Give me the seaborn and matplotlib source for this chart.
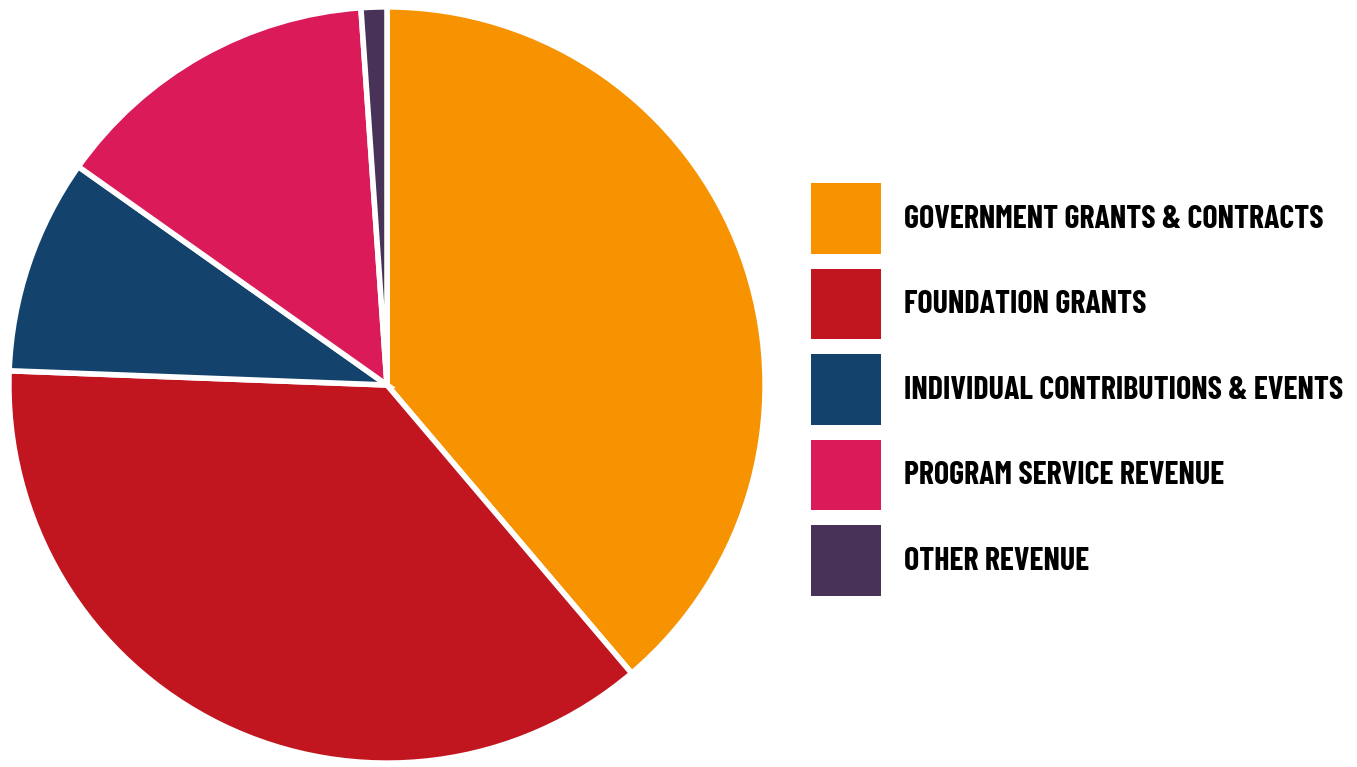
import matplotlib
matplotlib.use('Agg')
import matplotlib.pyplot as plt
import seaborn as sns
from matplotlib.patches import Patch
from matplotlib import font_manager

categories = ['GOVERNMENT GRANTS & CONTRACTS', 'FOUNDATION GRANTS',
              'INDIVIDUAL CONTRIBUTIONS & EVENTS', 'PROGRAM SERVICE REVENUE',
              'OTHER REVENUE']
shares = [38.8, 36.8, 9.2, 14.1, 1.1]
hex_colors = ['#F79200', '#C1161F', '#13426C', '#DB1A5A', '#483258']

sns.set_theme(style='white')

# pick a condensed bold face if one is around
installed = {f.name for f in font_manager.fontManager.ttflist}
family = 'DejaVu Sans'
for cand in ['Barlow Condensed', 'Roboto Condensed', 'Archivo Narrow',
             'PT Sans Narrow', 'Oswald']:
    if cand in installed:
        family = cand
        break
plt.rcParams['font.family'] = [family, 'DejaVu Sans']
print(family)

palette = sns.color_palette(hex_colors)

fig = plt.figure(figsize=(13.57, 7.67), dpi=100)
ax = fig.add_axes([7 / 1357, 2 / 767, 760 / 1357, 760 / 767])
ax.pie(shares, colors=palette, startangle=90, counterclock=False,
       wedgeprops=dict(edgecolor='white', linewidth=4))
ax.set_xlim(-1.005, 1.005)
ax.set_ylim(-1.005, 1.005)
ax.set_aspect('equal')
ax.axis('off')

# size the labels so the longest one is ~439 px wide, like the original
prop = dict(family=[family, 'DejaVu Sans'], weight='bold', stretch='condensed')
renderer = fig.canvas.get_renderer()
probe = fig.text(0, 0, max(categories, key=len), size=20, **prop)
w = probe.get_window_extent(renderer).width
probe.remove()
size = min(26.0, 20 * 439 / w)
fs_px = size * 100 / 72

handles = [Patch(facecolor=c, edgecolor='none') for c in palette]
fig.legend(handles, categories, loc='upper left',
           bbox_to_anchor=(811 / 1357, 1 - 183 / 767),
           frameon=False, borderpad=0, borderaxespad=0,
           handlelength=70 / fs_px,
           handleheight=(70 / fs_px - 0.307) / 0.624,
           labelspacing=15 / fs_px,
           handletextpad=23 / fs_px, labelcolor='black',
           prop=dict(size=size, **prop))

fig.savefig('out.png', dpi=100, facecolor='white')
